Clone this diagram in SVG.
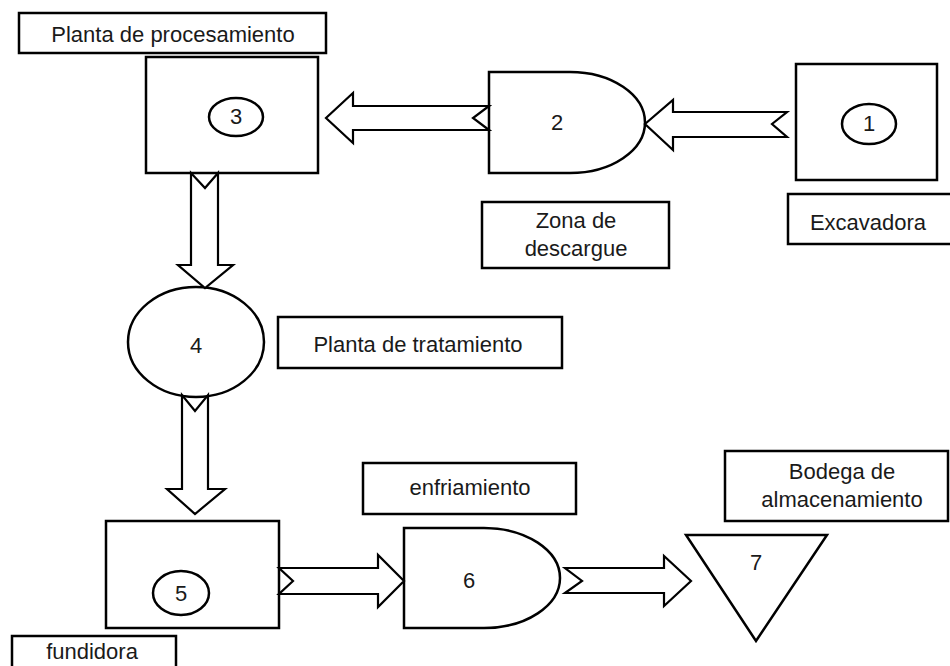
<svg xmlns="http://www.w3.org/2000/svg" width="950" height="666" viewBox="0 0 950 666">
<style>
.s{fill:#fff;stroke:#000;stroke-width:2.5}
.a{fill:#fff;stroke:#000;stroke-width:2.2;stroke-linejoin:miter}
text{font-family:"Liberation Sans",Arial,sans-serif;font-size:22px;fill:#1a1a1a;text-anchor:middle}
</style>
<rect width="950" height="666" fill="#fff"/>
<g id="label-procesamiento"><rect class="s" x="19" y="13" width="307" height="40"/><text x="173" y="42">Planta de procesamiento</text></g>
<g id="node3"><rect class="s" x="146" y="57" width="172" height="116"/><ellipse class="s" cx="236" cy="117" rx="27" ry="19"/><text x="236" y="124">3</text></g>
<g id="node2"><path class="s" d="M489,72 L570,72 A75,50.5 0 0 1 570,173 L489,173 Z"/><text x="557" y="130">2</text></g>
<g id="node1"><rect class="s" x="796" y="64" width="141" height="116"/><ellipse class="s" cx="869" cy="124" rx="27" ry="20"/><text x="869" y="131">1</text></g>
<g id="label-zona"><rect class="s" x="482" y="202" width="187" height="66"/><text x="576" y="228">Zona de</text><text x="576" y="256">descargue</text></g>
<g id="label-excavadora"><rect class="s" x="788" y="194" width="164" height="50"/><text x="868" y="230">Excavadora</text></g>
<g id="node4"><ellipse class="s" cx="196" cy="342" rx="68" ry="55"/><text x="196" y="353">4</text></g>
<g id="label-tratamiento"><rect class="s" x="278" y="317" width="284" height="51"/><text x="418" y="352">Planta de tratamiento</text></g>
<g id="label-enfriamiento"><rect class="s" x="363" y="463" width="213" height="51"/><text x="470" y="495">enfriamiento</text></g>
<g id="label-bodega"><rect class="s" x="725" y="451" width="223" height="70"/><text x="842" y="479">Bodega de</text><text x="842" y="507">almacenamiento</text></g>
<g id="node5"><rect class="s" x="106" y="521" width="173" height="107"/><ellipse class="s" cx="181" cy="593" rx="28" ry="22"/><text x="181" y="601">5</text></g>
<g id="node6"><path class="s" d="M404,528 L484,528 A76,50 0 0 1 484,628 L404,628 Z"/><text x="469" y="588">6</text></g>
<g id="node7"><polygon class="s" points="686,535 827,535 756,641"/><text x="756" y="570">7</text></g>
<g id="label-fundidora"><rect class="s" x="12" y="636" width="164" height="40"/><text x="92" y="659">fundidora</text></g>
<g id="connectors">
<polygon class="a" points="489,106 353,106 353,93 326,118 353,143 353,130 489,130 473,118"/>
<polygon class="a" points="787,112 673,112 673,100 645,124 673,150 673,137 787,137 772,124"/>
<polygon class="a" points="191,173 191,265 178,265 205,288 233,265 218,265 218,173 205,188"/>
<polygon class="a" points="182,395 182,489 167,489 195,514 225,489 208,489 208,395 195,411"/>
<polygon class="a" points="279,568 378,568 378,555 404,581 378,607 378,594 279,594 293,581"/>
<polygon class="a" points="565,568 664,568 664,556 691,581 664,606 664,593 565,593 582,581"/>
</g>
</svg>
